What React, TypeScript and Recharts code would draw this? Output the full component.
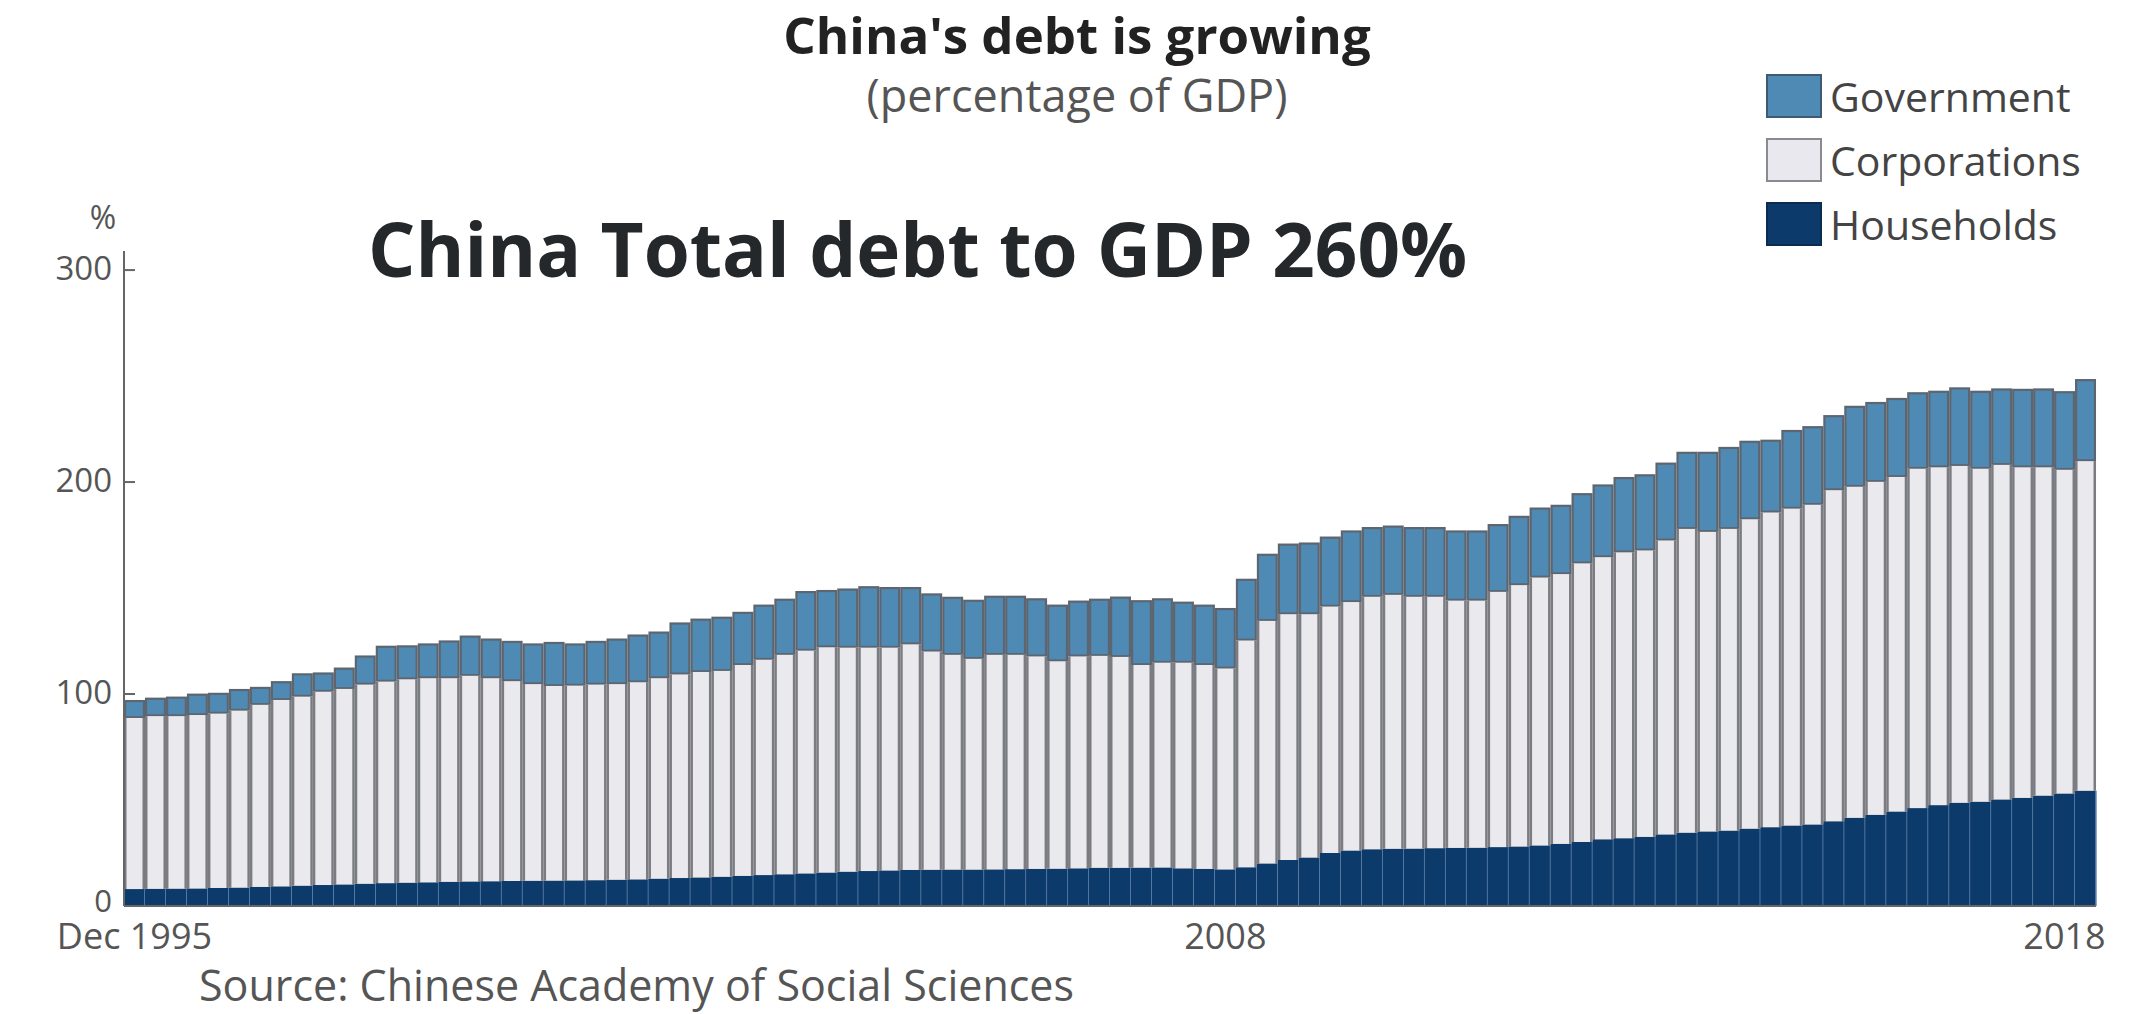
import { Bar, BarChart, Legend, XAxis, YAxis } from 'recharts';

// Quarterly debt, % of GDP, Dec 1995 .. Mar 2019
const households = [
  8.0, 8.1, 8.2, 8.3, 8.5, 8.7, 9.0, 9.3, 9.6, 9.9,
  10.2, 10.5, 10.8, 11.0, 11.2, 11.4, 11.6, 11.7, 11.8, 11.9,
  12.0, 12.1, 12.2, 12.4, 12.6, 12.9, 13.2, 13.5, 13.8, 14.2,
  14.6, 15.0, 15.4, 15.8, 16.2, 16.5, 16.8, 17.0, 17.1, 17.2,
  17.2, 17.3, 17.4, 17.5, 17.6, 17.8, 18.0, 18.0, 18.1, 18.2,
  17.8, 17.5, 17.3, 18.3, 20.1, 21.7, 22.9, 25.0, 26.2, 26.8,
  27.0, 27.1, 27.3, 27.4, 27.5, 27.8, 28.1, 28.6, 29.3, 30.2,
  31.5, 32.0, 32.6, 33.8, 34.6, 35.2, 35.6, 36.5, 37.2, 38.0,
  38.5, 40.0, 41.6, 43.0, 44.6, 46.2, 47.6, 48.7, 49.2, 50.3,
  51.0, 52.1, 53.1, 54.4,
];

const corporations = [
  80.7, 81.5, 81.4, 81.8, 82.3, 83.5, 85.9, 87.9, 89.2, 91.2,
  92.2, 94.0, 95.1, 96.0, 96.3, 96.1, 97.0, 95.8, 94.3, 92.8,
  91.8, 91.9, 92.3, 92.3, 93.0, 94.6, 96.1, 96.9, 97.1, 99.5,
  101.6, 103.5, 105.1, 106.3, 105.7, 105.4, 105.1, 106.5, 103.0, 101.3,
  99.4, 101.2, 101.1, 100.3, 97.9, 100.0, 100.0, 99.5, 95.6, 96.6,
  97.0, 96.2, 94.8, 107.0, 114.4, 116.0, 114.8, 116.3, 117.2, 119.1,
  119.8, 118.8, 118.6, 116.7, 116.6, 120.4, 123.3, 126.4, 127.3, 131.5,
  133.1, 134.9, 135.2, 138.7, 143.3, 141.3, 142.3, 146.0, 148.5, 149.5,
  150.8, 156.2, 156.2, 157.1, 157.8, 160.1, 159.4, 158.9, 157.1, 157.8,
  156.0, 154.9, 152.7, 155.5,
];

const government = [
  8.5, 8.7, 9.2, 10.1, 9.8, 10.2, 8.5, 8.9, 11.0, 9.1,
  10.1, 13.7, 16.9, 16.0, 16.4, 17.8, 19.0, 18.7, 19.0, 19.2,
  20.8, 19.9, 20.6, 21.5, 22.5, 22.0, 24.5, 25.2, 25.6, 25.1,
  26.0, 26.5, 28.1, 27.0, 27.9, 29.0, 28.6, 27.0, 27.4, 27.4,
  27.9, 27.9, 27.9, 27.4, 26.7, 26.3, 27.0, 28.5, 30.6, 30.4,
  28.8, 28.5, 28.5, 29.1, 31.7, 33.3, 33.8, 33.0, 33.8, 32.9,
  32.7, 32.9, 32.9, 33.1, 33.1, 32.0, 32.7, 33.0, 32.7, 33.1,
  34.3, 35.5, 35.9, 36.7, 36.4, 37.8, 38.7, 37.0, 34.3, 37.1,
  37.1, 35.4, 38.2, 37.7, 37.3, 36.1, 36.1, 37.1, 36.8, 36.1,
  37.0, 37.2, 37.1, 38.7,
];

const FIRST_YEAR = 1995;
const quarters = households.map((_, i) => {
  const q = i + 3;
  return `${FIRST_YEAR + Math.floor(q / 4)}Q${(q % 4) + 1}`;
});

const xTicks = ['1995Q4', '2008Q4', '2018Q4'];
const xTickLabels = ['Dec 1995', '2008', '2018'];
const yTicks = [0, 100, 200, 300];

const legendItems = [
  { name: 'Government', fill: '#4f8ab5', border: '#3d5a73' },
  { name: 'Corporations', fill: '#e8e8ee', border: '#8a8a90' },
  { name: 'Households', fill: '#0c3a6b', border: '#0a2c52' },
];

const data = quarters.map((q, i) => ({
  q,
  households: households[i],
  corporations: corporations[i],
  government: government[i],
}));

const FONT = "'Open Sans', sans-serif";

const HouseholdShape = ({ x, y, width, height }: any) => (
  <g>
    <rect x={x} y={y} width={width} height={height} fill="#0c3a6b" />
    <line x1={x + width} x2={x + width} y1={y} y2={y + height} stroke="#6e8db2" strokeWidth={1.5} />
  </g>
);

const CorporationShape = ({ x, y, width, height }: any) => (
  <g>
    <rect x={x} y={y} width={width} height={height} fill="#7b7c82" />
    <rect x={x + 2.5} y={y} width={width - 5} height={height} fill="#e9e9ee" />
  </g>
);

const GovernmentShape = ({ x, y, width, height }: any) => (
  <g>
    <rect x={x} y={y} width={width} height={height} fill="#5d6670" />
    <rect x={x + 2.2} y={y + 2.2} width={width - 4.4} height={height - 4} fill="#4f8ab5" />
  </g>
);

const YTick = ({ x, y, payload }: any) => (
  <g>
    <line x1={x + 12} x2={x + 23} y1={y} y2={y} stroke="#666" strokeWidth={2} />
    <text
      x={x}
      y={y}
      dy={payload.value === 0 ? '0.2em' : '0.3em'}
      textAnchor="end"
      fontSize={payload.value === 0 ? 31 : 33}
      fill="#555"
      fontFamily={FONT}
    >
      {payload.value}
    </text>
  </g>
);

const LegendBox = () => (
  <div style={{ fontFamily: FONT }}>
    {legendItems.map((item) => (
      <div key={item.name} style={{ display: 'flex', alignItems: 'center', height: 44, marginBottom: 20 }}>
        <div
          style={{
            width: 52,
            height: 40,
            background: item.fill,
            border: `2px solid ${item.border}`,
            marginRight: 8,
          }}
        />
        <span style={{ fontSize: 41, color: '#444', lineHeight: '44px' }}>{item.name}</span>
      </div>
    ))}
  </div>
);

export default function App() {
  return (
    <div style={{ position: 'absolute', left: 0, top: 0, width: 2152, height: 1014, background: '#fff' }}>
      <BarChart
        width={2152}
        height={1014}
        data={data}
        margin={{ top: 251, right: 56, bottom: 58, left: 50 }}
        barCategoryGap={0}
      >
        <XAxis
          dataKey="q"
          ticks={xTicks}
          interval={0}
          tickFormatter={(v: string) => xTickLabels[xTicks.indexOf(v)] ?? ''}
          tickLine={false}
          tickSize={0}
          tickMargin={17}
          height={50}
          axisLine={{ stroke: '#666', strokeWidth: 2 }}
          tick={{ fontSize: 36, fill: '#555', fontFamily: FONT }}
        />
        <YAxis
          width={74}
          domain={[0, 309]}
          ticks={yTicks}
          tickLine={false}
          tickSize={0}
          tickMargin={12}
          axisLine={{ stroke: '#666', strokeWidth: 2 }}
          tick={<YTick />}
        />
        <Legend
          layout="vertical"
          align="center"
          verticalAlign="middle"
          wrapperStyle={{ left: 1766, top: 74, width: 380 }}
          content={<LegendBox />}
        />
        <Bar dataKey="households" name="Households" stackId="debt" shape={<HouseholdShape />} isAnimationActive={false} />
        <Bar dataKey="corporations" name="Corporations" stackId="debt" shape={<CorporationShape />} isAnimationActive={false} />
        <Bar dataKey="government" name="Government" stackId="debt" shape={<GovernmentShape />} isAnimationActive={false} />
      </BarChart>
      <svg
        width={2152}
        height={1014}
        style={{ position: 'absolute', left: 0, top: 0, pointerEvents: 'none' }}
        fontFamily={FONT}
      >
        <text x={1077} y={54} textAnchor="middle" fontSize={51} fontWeight={700} fill="#222">
          China's debt is growing
        </text>
        <text x={1077} y={112} textAnchor="middle" fontSize={45} fill="#555">
          (percentage of GDP)
        </text>
        <text x={368} y={277} fontSize={74.5} fontWeight={700} fill="#25282b">
          China Total debt to GDP 260%
        </text>
        <text x={103} y={229} textAnchor="middle" fontSize={32} fill="#555">
          %
        </text>
        <text x={199} y={1001} fontSize={43} fill="#555">
          Source: Chinese Academy of Social Sciences
        </text>
      </svg>
    </div>
  );
}
